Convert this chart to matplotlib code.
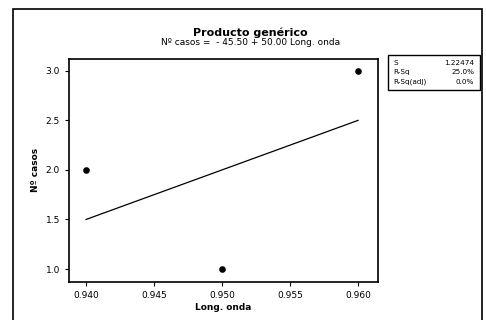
import numpy as np
import matplotlib.pyplot as plt
from matplotlib.patches import Rectangle

long_onda = [0.940, 0.950, 0.960]
n_casos = [2.0, 1.0, 3.0]
intercept = -45.50
slope = 50.00
stat_names = ["S", "R-Sq", "R-Sq(adj)"]
stat_values = ["1.22474", "25.0%", "0.0%"]
xticks = [0.940, 0.945, 0.950, 0.955, 0.960]
yticks = [1.0, 1.5, 2.0, 2.5, 3.0]

fig = plt.figure(figsize=(4.86, 3.2), dpi=100)
ax = fig.add_axes([0.142, 0.119, 0.636, 0.697])

xs = np.array([min(long_onda), max(long_onda)])
ax.plot(xs, intercept + slope * xs, color="black", lw=0.9)
ax.scatter(long_onda, n_casos, color="black", s=14, zorder=3)

ax.set_xlim(0.93875, 0.96147)
ax.set_ylim(0.87, 3.12)
ax.set_xticks(xticks)
ax.set_xticklabels([f"{t:.3f}" for t in xticks])
ax.set_yticks(yticks)
ax.set_yticklabels([f"{t:.1f}" for t in yticks])
ax.tick_params(labelsize=6.5, length=3, width=0.8)
for s in ax.spines.values():
    s.set_linewidth(1.2)
ax.set_xlabel("Long. onda", fontsize=6.5, fontweight="bold", labelpad=2)
ax.set_ylabel("Nº casos", fontsize=6.5, fontweight="bold", labelpad=4)

fig.text(0.515, 0.888, "Producto genérico", ha="center", fontsize=8, fontweight="bold")
fig.text(0.515, 0.858, "Nº casos =  - 45.50 + 50.00 Long. onda", ha="center", fontsize=6.5)

# outer frame
fig.patches.append(Rectangle((0.027, -0.05), 0.965, 1.022, transform=fig.transFigure,
                             fill=False, lw=1.2, edgecolor="black"))

# stats box
bx0, by0, bw, bh = 0.798, 0.72, 0.190, 0.108
fig.patches.append(Rectangle((bx0, by0), bw, bh, transform=fig.transFigure,
                             fill=False, lw=1.0, edgecolor="black"))
for i, (n, v) in enumerate(zip(stat_names, stat_values)):
    y = by0 + bh - 0.025 - i * 0.029
    fig.text(bx0 + 0.012, y, n, fontsize=5.2, va="center")
    fig.text(bx0 + bw - 0.012, y, v, fontsize=5.2, va="center", ha="right")

fig.savefig("out.png", dpi=100)
